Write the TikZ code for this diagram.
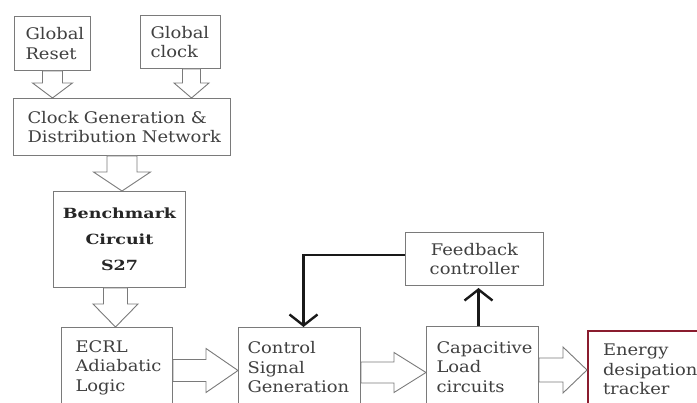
\documentclass[tikz,border=0pt]{standalone}
\usepackage{fontspec}
\setmainfont{DejaVu Serif}[FakeStretch=1.12]
\newfontfamily\benchfont{DejaVu Serif}[FakeStretch=1.25]
\usetikzlibrary{arrows.meta,calc}
\definecolor{boxgray}{HTML}{7A7A7A}
\definecolor{txtgray}{HTML}{404040}
\definecolor{darkred}{HTML}{8A1C2E}
\newcommand\fatdown[5]{\draw[fat] let \p1=(#1), \p2=(#2) in
  (\x1-#3pt,\y1) -- (\x1-#3pt,\y2+#5pt) -- (\x1-#4pt,\y2+#5pt) -- (\x1,\y2) --
  (\x1+#4pt,\y2+#5pt) -- (\x1+#3pt,\y2+#5pt) -- (\x1+#3pt,\y1) -- cycle;}
\newcommand\fatright[5]{\draw[fat] let \p1=(#1), \p2=(#2) in
  (\x1,\y1+#3pt) -- (\x2-#5pt,\y1+#3pt) -- (\x2-#5pt,\y1+#4pt) -- (\x2,\y1) --
  (\x2-#5pt,\y1-#4pt) -- (\x2-#5pt,\y1-#3pt) -- (\x1,\y1-#3pt) -- cycle;}
\begin{document}
\begin{tikzpicture}[x=1pt,y=-1pt,
  blk/.style={draw=boxgray, line width=1pt, anchor=north west, inner sep=0pt,
    text=txtgray, font=\fontsize{16}{19.5}\selectfont,
    execute at begin node={\hyphenpenalty=10000\hbadness=10000\hfuzz=100pt}},
  fat/.style={draw=boxgray, fill=white, line width=0.9pt, line join=miter},
  fbline/.style={draw=black!90, line width=2.4pt,
    -{Straight Barb[length=11pt,width=28pt,line width=2.4pt]}}]
\useasboundingbox (0,0) rectangle (697,403);
\clip (0,0) rectangle (697,403);
\fill[white] (0,0) rectangle (697,403);

\node[blk, minimum width=76pt, minimum height=54pt, align=left,
  text width=54pt, inner xsep=11pt] (reset) at (14,16) {Global\\Reset};
\node[blk, minimum width=80pt, minimum height=53pt, align=left,
  text width=60pt, inner xsep=10pt] (gclk) at (140,15) {Global\\clock};
\node[blk, minimum width=217pt, minimum height=57pt, align=left,
  text width=189pt, inner xsep=14pt] (cgen) at (13,98) {Clock Generation \&\\\mbox{Distribution Network}};
\node[blk, minimum width=132pt, minimum height=96pt, align=center,
  font=\fontsize{14}{26}\benchfont\bfseries, text=black!85] (bench) at (53,191) {Benchmark\\Circuit\\S27};
\node[blk, minimum width=111pt, minimum height=80pt, align=left,
  text width=83pt, inner xsep=14pt] (ecrl) at (61,327) {ECRL\\Adiabatic\\Logic};
\node[blk, minimum width=122pt, minimum height=80pt, align=left,
  text width=104pt, inner xsep=9pt] (ctrl) at (238,327) {Control\\Signal\\Generation};
\node[blk, minimum width=138pt, minimum height=53pt, align=center] (fb) at (405,232) {Feedback\\controller};
\node[blk, minimum width=112pt, minimum height=81pt, align=left,
  text width=92pt, inner xsep=10pt] (cap) at (426,326) {Capacitive\\Load\\circuits};
\node[blk, draw=darkred, line width=2pt, minimum width=140pt, minimum height=77pt, align=left,
  text width=110pt, inner xsep=15pt] (energy) at (587,330) {Energy\\desipation\\tracker};

\fatdown{reset.south}{cgen.north}{10}{20}{15}
\fatdown{[xshift=11pt]gclk.south}{cgen.north}{9}{17.5}{15}
\fatdown{cgen.south}{bench.north}{15}{28.5}{19}
\fatdown{[xshift=-4pt]bench.south}{ecrl.north}{12}{22.5}{23}
\fatright{[yshift=-3pt]ecrl.east}{ctrl.west}{11}{22}{32}
\fatright{[yshift=-5pt]ctrl.east}{cap.west}{10.5}{20}{32}
\fatright{[yshift=-3pt]cap.east}{energy.west}{12}{23}{24}

\draw[fbline] ([yshift=4pt]fb.west) -| ([xshift=4pt]ctrl.north);
\draw[fbline, shorten >=2pt] ([xshift=-4pt]cap.north) -- ([xshift=-4pt]cap.north |- fb.south);
\end{tikzpicture}
\end{document}
